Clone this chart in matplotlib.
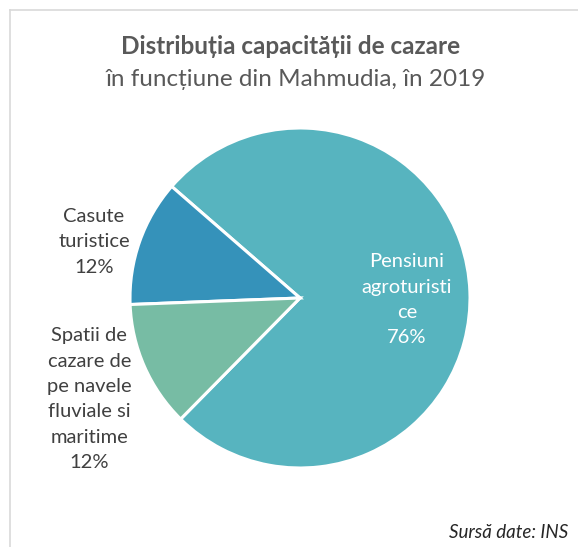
import matplotlib
matplotlib.use("Agg")
import matplotlib.pyplot as plt
from matplotlib.lines import Line2D

plt.rcParams['font.family'] = ['Lato', 'DejaVu Sans']

categories = ["Pensiuni\nagroturisti\nce", "Casute\nturistice", "Spatii de\ncazare de\npe navele\nfluviale si\nmaritime"]
values = [76, 12, 12]
colors = ["#57B4BF", "#3592BA", "#77BCA4"]
label_pos = [(0.63, -0.01), (-1.212, 0.33), (-1.24, -0.595)]
label_colors = ["white", "#404040", "#404040"]

W, H = 578, 547
fig = plt.figure(figsize=(W / 100, H / 100), dpi=100)

cx, cy, r = 300, 298, 170
ax = fig.add_axes([(cx - r) / W, (H - cy - r) / H, 2 * r / W, 2 * r / H])
ax.set_aspect('equal')
wedges, _ = ax.pie(values, colors=colors, startangle=225.4, counterclock=True,
                   wedgeprops=dict(edgecolor='white', linewidth=2.2))
ax.set_xlim(-1, 1)
ax.set_ylim(-1, 1)
ax.axis('off')

total = sum(values)
for cat, v, (lx, ly), c in zip(categories, values, label_pos, label_colors):
    ax.text(lx, ly, f"{cat}\n{round(100 * v / total)}%", ha='center', va='center',
            fontsize=14.5, color=c, linespacing=1.6, clip_on=False)

fig.text(291 / W, 1 - 47 / H, "Distribuția capacității de cazare", ha='center', va='center',
         fontsize=17.5, fontweight='bold', color='#595959')
fig.text(296 / W, 1 - 79 / H, "în funcțiune din Mahmudia, în 2019", ha='center', va='center',
         fontsize=17.5, color='#595959')
fig.text(568 / W, 1 - 532 / H, "Sursă date: INS", ha='right', va='center',
         fontsize=13.5, style='italic', color='#262626')

# chart frame (partially visible)
fig.add_artist(Line2D([10 / W, 10 / W], [0, 1 - 10 / H], color='#D9D9D9', lw=1.2, transform=fig.transFigure))
fig.add_artist(Line2D([10 / W, 1], [1 - 10 / H, 1 - 10 / H], color='#D9D9D9', lw=1.2, transform=fig.transFigure))

fig.savefig("out.png", dpi=100)
